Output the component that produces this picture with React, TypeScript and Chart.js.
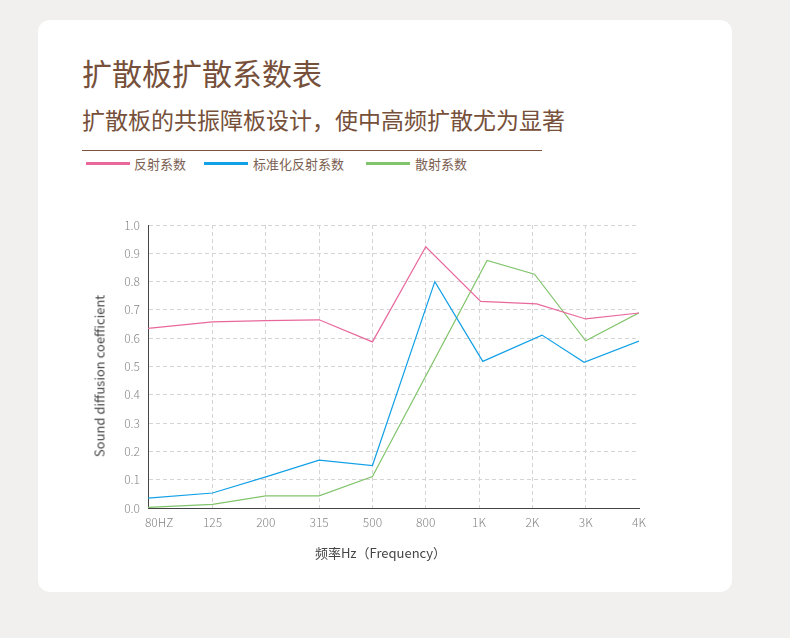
import React, { useEffect, useRef } from "react";
import { Chart, registerables } from "chart.js";

Chart.register(...registerables);

const xLabels = ["80HZ", "125", "200", "315", "500", "800", "1K", "2K", "3K", "4K"];
const yTickValues = [0, 0.1, 0.2, 0.3, 0.4, 0.5, 0.6, 0.7, 0.8, 0.9, 1.0];

const reflectX = [-0.21, 1, 2, 3, 4, 5, 6.03, 7.08, 8, 9];
const reflectY = [0.635, 0.658, 0.662, 0.665, 0.587, 0.923, 0.73, 0.721, 0.668, 0.689];

const normX = [-0.21, 1, 2, 3, 4, 5.17, 6.07, 7.18, 7.97, 9];
const normY = [0.035, 0.053, 0.11, 0.169, 0.15, 0.8, 0.518, 0.611, 0.515, 0.59];

const scatterX = [-0.21, 1, 2, 3, 4, 6.15, 7.04, 8, 9];
const scatterY = [0.002, 0.013, 0.043, 0.043, 0.111, 0.875, 0.826, 0.591, 0.69];

const seriesNames = ["反射系数", "标准化反射系数", "散射系数"];
const seriesColors = ["#e8689c", "#12a0e6", "#82c46c"];

const titleText = "扩散板扩散系数表";
const subtitleText = "扩散板的共振障板设计，使中高频扩散尤为显著";
const yTitle = "Sound diffusion coefficient";
const xTitle = "频率Hz（Frequency）";

const brown = "#76503a";
const cjk = "'Noto Sans CJK SC', 'Noto Sans', sans-serif";

function pts(xs: number[], ys: number[]) {
  return xs.map((x, i) => ({ x, y: ys[i] }));
}

export default function App() {
  const ref = useRef<HTMLCanvasElement | null>(null);

  useEffect(() => {
    if (!ref.current) return;
    const tickFont = { family: cjk, size: 12, weight: "300" };
    const chart = new Chart(ref.current, {
      type: "line",
      data: {
        datasets: [
          { label: seriesNames[0], data: pts(reflectX, reflectY), borderColor: seriesColors[0] },
          { label: seriesNames[1], data: pts(normX, normY), borderColor: seriesColors[1] },
          { label: seriesNames[2], data: pts(scatterX, scatterY), borderColor: seriesColors[2] },
        ].map((d) => ({
          ...d,
          backgroundColor: d.borderColor,
          borderWidth: 1.2,
          pointRadius: 0,
          tension: 0,
          fill: false,
        })),
      },
      options: {
        responsive: false,
        animation: false,
        devicePixelRatio: 1,
        layout: { padding: { top: 35, right: 21, left: 0, bottom: 0 } },
        plugins: { legend: { display: false }, tooltip: { enabled: false } },
        scales: {
          x: {
            type: "linear",
            min: -0.21,
            max: 9,
            afterBuildTicks: (scale: any) => {
              scale.ticks = xLabels.map((_, i) => ({ value: i }));
            },
            afterFit: (scale: any) => {
              scale.height = 62;
            },
            ticks: {
              autoSkip: false,
              maxRotation: 0,
              padding: 7,
              color: "#858585",
              font: tickFont,
              callback: (v: any) => xLabels[v as number] ?? "",
            },
            grid: {
              drawTicks: false,
              color: (ctx: any) =>
                ctx.tick && (ctx.tick.value === 0 || ctx.tick.value === 9) ? "rgba(0,0,0,0)" : "#d4d4d4",
              lineWidth: 1,
            },
            border: { display: true, color: "#444", width: 1, dash: [4, 3] },
          },
          y: {
            min: 0,
            max: 1,
            afterBuildTicks: (scale: any) => {
              scale.ticks = yTickValues.map((v) => ({ value: v }));
            },
            afterFit: (scale: any) => {
              scale.width = 108;
            },
            ticks: {
              padding: 8,
              color: "#858585",
              font: tickFont,
              callback: (v: any) => Number(v).toFixed(1),
            },
            grid: { drawTicks: false, color: "#d4d4d4", lineWidth: 1 },
            border: { display: true, color: "#444", width: 1, dash: [4, 3] },
          },
        },
      } as any,
    });
    return () => chart.destroy();
  }, []);

  const legendItems = [
    { line: 86, text: 134 },
    { line: 204, text: 253 },
    { line: 366, text: 415 },
  ];

  return (
    <div style={{ position: "fixed", inset: 0, background: "#f1f0ee", overflow: "hidden" }}>
      <div
        style={{
          position: "absolute",
          left: 38,
          top: 20,
          width: 694,
          height: 572,
          borderRadius: 12,
          background: "#ffffff",
        }}
      />
      <div
        style={{
          position: "absolute",
          left: 82,
          top: 57,
          fontSize: 30,
          lineHeight: "30px",
          color: brown,
          fontFamily: cjk,
          whiteSpace: "nowrap",
        }}
      >
        {titleText}
      </div>
      <div
        style={{
          position: "absolute",
          left: 82,
          top: 107.5,
          fontSize: 23,
          lineHeight: "23px",
          color: brown,
          fontFamily: cjk,
          whiteSpace: "nowrap",
        }}
      >
        {subtitleText}
      </div>
      <div style={{ position: "absolute", left: 82, top: 150, width: 460, height: 1, background: "#7a5440" }} />
      {legendItems.map((it, i) => (
        <React.Fragment key={i}>
          <div
            style={{
              position: "absolute",
              left: it.line,
              top: 162,
              width: 44,
              height: 3,
              background: seriesColors[i],
            }}
          />
          <div
            style={{
              position: "absolute",
              left: it.text,
              top: 156.8,
              fontSize: 13,
              lineHeight: "13px",
              color: "#7b6052",
              fontFamily: cjk,
              whiteSpace: "nowrap",
            }}
          >
            {seriesNames[i]}
          </div>
        </React.Fragment>
      ))}
      <canvas
        ref={ref}
        width={620}
        height={380}
        style={{ position: "absolute", left: 40, top: 190, width: 620, height: 380 }}
      />
      <div
        style={{
          position: "absolute",
          left: 99,
          top: 375.6,
          transform: "translate(-50%, -50%) rotate(-90deg)",
          fontSize: 13,
          lineHeight: "13px",
          color: "#444",
          fontFamily: cjk,
          whiteSpace: "nowrap",
        }}
      >
        {yTitle}
      </div>
      <div
        style={{
          position: "absolute",
          left: 380.5,
          top: 552,
          transform: "translate(-50%, -50%)",
          fontSize: 13,
          lineHeight: "13px",
          color: "#444",
          fontFamily: cjk,
          whiteSpace: "nowrap",
        }}
      >
        {xTitle}
      </div>
    </div>
  );
}
